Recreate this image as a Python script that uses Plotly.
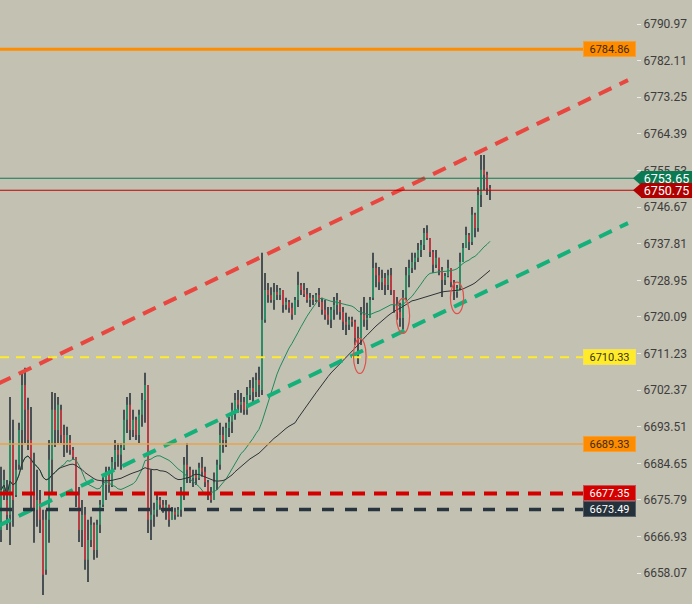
import pandas
import plotly.graph_objects
import plotly.io


plotly.io.templates.default = 'plotly_white'

# candles, one bar per slot (oldest first)
opens = [6668.5, 6678.2, 6675.8, 6672.2, 6689.1, 6677.0, 6684.3, 6692.7, 6703.6, 6697.6,
         6690.3, 6677.0, 6673.4, 6675.8, 6671.0, 6658.9, 6671.0, 6685.5, 6697.6, 6692.7,
         6697.6, 6691.5, 6689.1, 6690.3, 6687.9, 6686.2, 6677.0, 6668.5, 6672.2, 6661.3,
         6666.1, 6669.8, 6663.7, 6669.8, 6674.6, 6679.4, 6681.9, 6679.4, 6685.0, 6687.9,
         6686.7, 6688.4, 6695.2, 6698.8, 6692.7, 6695.2, 6691.5, 6696.4, 6700.0, 6703.6,
         6671.0, 6672.2, 6673.4, 6675.8, 6674.6, 6673.4, 6674.6, 6671.0, 6672.9, 6672.2,
         6673.4, 6677.7, 6684.3, 6683.1, 6681.1, 6681.9, 6681.1, 6683.6, 6682.6, 6680.1,
         6677.0, 6675.8, 6680.1, 6684.3, 6691.5, 6690.3, 6693.2, 6694.7, 6697.6, 6700.0,
         6698.8, 6699.5, 6697.6, 6701.2, 6702.9, 6701.9, 6704.8, 6702.4, 6719.4, 6726.6,
         6725.4, 6724.2, 6726.1, 6725.4, 6726.6, 6723.0, 6723.7, 6722.3, 6720.6, 6724.2,
         6727.8, 6726.6, 6725.6, 6724.2, 6724.7, 6724.2, 6725.4, 6723.7, 6721.8, 6720.6,
         6719.4, 6721.8, 6723.0, 6724.2, 6721.3, 6718.9, 6718.2, 6719.4, 6718.9, 6715.0,
         6714.5, 6720.6, 6719.4, 6719.8, 6724.7, 6731.9, 6730.2, 6728.5, 6729.5, 6727.8,
         6730.2, 6726.6, 6723.0, 6721.3, 6719.8, 6724.7, 6730.2, 6731.9, 6733.4, 6734.4,
         6736.3, 6737.5, 6740.4, 6739.2, 6735.8, 6732.7, 6734.4, 6731.5, 6729.0, 6730.0,
         6731.9, 6728.5, 6726.1, 6727.1, 6733.4, 6736.8, 6739.9, 6738.2, 6744.8, 6741.6,
         6749.6, 6755.7, 6754.5, 6751.3]
highs = [6683.8, 6683.1, 6680.6, 6700.7, 6695.2, 6685.5, 6694.5, 6706.6, 6707.8, 6700.5,
         6698.3, 6687.2, 6683.1, 6678.2, 6673.4, 6673.4, 6690.3, 6701.9, 6701.7, 6700.7,
         6698.8, 6694.0, 6693.5, 6691.5, 6688.6, 6686.2, 6678.9, 6675.8, 6674.1, 6671.0,
         6671.7, 6670.3, 6671.0, 6675.8, 6681.4, 6683.8, 6683.8, 6686.2, 6690.3, 6689.6,
         6689.6, 6697.6, 6700.7, 6701.7, 6697.6, 6695.9, 6697.6, 6701.7, 6706.6, 6703.6,
         6683.1, 6675.1, 6677.5, 6676.5, 6675.8, 6675.8, 6674.6, 6674.1, 6673.9, 6674.1,
         6678.9, 6686.2, 6689.6, 6683.8, 6683.1, 6683.1, 6684.8, 6686.2, 6683.8, 6680.6,
         6678.9, 6682.4, 6685.5, 6694.5, 6693.5, 6694.5, 6695.9, 6699.3, 6701.7, 6702.4,
         6701.7, 6700.7, 6703.1, 6704.8, 6705.5, 6706.6, 6708.0, 6735.6, 6730.7, 6728.3,
         6727.3, 6728.3, 6727.8, 6727.1, 6726.6, 6724.7, 6724.2, 6723.5, 6724.9, 6731.0,
         6728.3, 6728.3, 6727.1, 6725.9, 6725.4, 6725.9, 6727.1, 6724.7, 6724.2, 6722.5,
         6722.5, 6724.9, 6725.9, 6724.2, 6722.5, 6721.1, 6720.1, 6720.1, 6719.4, 6717.7,
         6722.5, 6724.9, 6723.5, 6724.9, 6735.6, 6733.2, 6732.2, 6731.5, 6730.7, 6731.5,
         6731.9, 6726.6, 6724.9, 6723.5, 6726.6, 6732.2, 6733.9, 6735.6, 6735.6, 6738.0,
         6738.7, 6741.6, 6742.3, 6739.2, 6736.3, 6736.3, 6734.4, 6732.2, 6730.7, 6733.9,
         6731.9, 6729.0, 6727.8, 6735.6, 6738.0, 6741.9, 6740.4, 6746.7, 6745.3, 6751.5,
         6759.3, 6759.3, 6755.2, 6752.0]
lows = [6665.6, 6675.8, 6668.5, 6664.9, 6669.3, 6676.5, 6683.1, 6683.1, 6689.6, 6687.9,
        6673.4, 6665.4, 6669.3, 6667.8, 6652.8, 6657.7, 6665.4, 6677.5, 6688.6, 6689.6,
        6689.6, 6686.2, 6687.2, 6686.7, 6685.5, 6674.1, 6665.6, 6664.4, 6658.9, 6655.9,
        6664.4, 6661.3, 6661.8, 6667.8, 6674.1, 6675.8, 6677.5, 6678.9, 6683.1, 6683.8,
        6683.1, 6687.9, 6692.0, 6690.3, 6691.0, 6690.3, 6689.6, 6693.5, 6694.5, 6667.8,
        6666.1, 6669.3, 6671.7, 6673.4, 6672.7, 6671.0, 6669.3, 6671.0, 6671.0, 6671.7,
        6671.7, 6675.8, 6679.9, 6679.9, 6678.9, 6679.4, 6680.6, 6681.4, 6678.9, 6675.8,
        6675.1, 6675.8, 6678.2, 6683.1, 6687.2, 6688.6, 6691.0, 6692.0, 6695.2, 6696.9,
        6696.9, 6696.4, 6696.4, 6700.0, 6699.3, 6700.7, 6700.7, 6701.2, 6718.7, 6723.5,
        6723.5, 6721.8, 6724.2, 6724.2, 6721.1, 6721.8, 6721.1, 6719.4, 6720.6, 6722.5,
        6725.4, 6724.9, 6723.5, 6722.5, 6723.0, 6723.7, 6722.5, 6720.6, 6719.4, 6718.2,
        6717.4, 6719.4, 6720.6, 6719.4, 6716.9, 6715.7, 6716.9, 6717.7, 6713.3, 6708.7,
        6713.3, 6717.7, 6716.9, 6719.8, 6724.2, 6727.3, 6726.6, 6726.6, 6725.4, 6726.6,
        6725.4, 6721.1, 6719.4, 6717.7, 6716.9, 6724.2, 6727.3, 6730.7, 6731.5, 6733.4,
        6734.6, 6736.3, 6738.7, 6734.6, 6730.7, 6731.9, 6730.2, 6724.9, 6727.8, 6729.7,
        6727.3, 6724.2, 6724.7, 6726.6, 6733.4, 6736.8, 6736.3, 6737.5, 6739.4, 6740.7,
        6746.7, 6750.8, 6749.6, 6748.4]
closes = [6678.2, 6680.6, 6672.2, 6690.3, 6675.8, 6683.1, 6692.7, 6703.6, 6697.6, 6690.3,
          6677.0, 6673.4, 6675.8, 6671.0, 6657.7, 6671.0, 6685.5, 6697.6, 6692.7, 6698.8,
          6691.5, 6689.1, 6691.5, 6687.9, 6686.2, 6677.0, 6668.5, 6672.2, 6661.3, 6666.1,
          6669.8, 6663.7, 6669.8, 6674.6, 6679.4, 6681.9, 6679.4, 6685.0, 6687.9, 6686.7,
          6688.4, 6695.2, 6698.8, 6692.7, 6695.2, 6691.5, 6696.4, 6700.0, 6703.6, 6671.0,
          6672.2, 6673.4, 6675.8, 6674.6, 6673.4, 6674.6, 6671.0, 6672.9, 6672.2, 6673.4,
          6677.7, 6684.3, 6683.1, 6681.1, 6681.9, 6681.1, 6683.6, 6682.6, 6680.1, 6677.0,
          6675.8, 6680.1, 6684.3, 6691.5, 6690.3, 6693.2, 6694.7, 6697.6, 6700.0, 6698.8,
          6699.5, 6697.6, 6701.2, 6702.9, 6701.9, 6704.8, 6703.6, 6719.4, 6726.6, 6725.4,
          6724.2, 6726.1, 6725.4, 6726.6, 6723.0, 6723.7, 6722.3, 6720.6, 6724.2, 6727.8,
          6726.6, 6725.6, 6724.2, 6724.7, 6724.2, 6725.4, 6723.7, 6721.8, 6720.6, 6719.4,
          6721.8, 6723.0, 6724.2, 6721.3, 6718.9, 6718.2, 6719.4, 6718.9, 6715.0, 6713.3,
          6720.6, 6719.4, 6719.8, 6724.2, 6731.9, 6730.2, 6728.5, 6729.5, 6727.8, 6730.2,
          6726.6, 6723.0, 6721.3, 6719.8, 6724.7, 6730.2, 6731.9, 6733.4, 6734.4, 6736.3,
          6737.5, 6740.4, 6739.2, 6735.8, 6732.7, 6734.4, 6731.5, 6729.0, 6730.0, 6731.9,
          6728.5, 6726.1, 6727.1, 6733.4, 6736.8, 6739.9, 6738.2, 6744.8, 6741.6, 6749.6,
          6755.7, 6754.5, 6751.3, 6750.8]

price_ticks = [6658.07, 6666.93, 6675.79, 6684.65, 6693.51, 6702.37, 6711.23, 6720.09,
               6728.95, 6737.81, 6746.67, 6755.53, 6764.39, 6773.25, 6782.11, 6790.97]

# horizontal levels drawn on the chart
level_prices = [6784.86, 6710.33, 6689.33, 6677.35, 6673.49]
bid_price = 6753.65
last_price = 6750.75

# channel lines: (bar slot, price) at both ends
upper_channel = [(-1, 6703.9), (209, 6777.4)]
lower_channel = [(-1, 6669.5), (209, 6742.8)]

# circled lows: first slot, last slot, low price, high price
circled_lows = [(117.5, 121.7, 6706.4, 6714.9),
                (131.8, 136.2, 6716.1, 6724.6),
                (149.8, 154.2, 6720.9, 6728.5)]

price_range = [6650.6, 6796.8]

BACKGROUND = '#c3c1b2'
WICK_COLOR = '#1f2a33'
UP_COLOR = '#22a06c'
DOWN_COLOR = '#e0353f'
PLOT_WIDTH_PX = 636

level_styles = [
    dict(line=dict(color='#ff8c00', width=3), bg='#ff8c00', border='#f5a030', fg='#3a2a10'),
    dict(line=dict(color='#ffeb2a', width=2, dash='9px,7px'), bg='#ffeb2a', border='#f2e060', fg='#3a3510'),
    dict(line=dict(color='#e9a24c', width=1.5), bg='#ff8c00', border='#f5a030', fg='#3a2a10'),
    dict(line=dict(color='#d40000', width=4, dash='13px,9px'), bg='#d40000', border='#c85050', fg='#ffffff'),
    dict(line=dict(color='#28353e', width=3.5, dash='12px,11px'), bg='#26323b', border='#55606a', fg='#ffffff'),
]


def plot_candles(figure):
    slots = list(range(len(closes)))
    wick_x, wick_y = [], []
    up_x, up_y, down_x, down_y = [], [], [], []
    for i in slots:
        wick_x += [i, i, None]
        wick_y += [lows[i], highs[i], None]
        if closes[i] >= opens[i]:
            up_x += [i, i, None]
            up_y += [opens[i], closes[i], None]
        else:
            down_x += [i, i, None]
            down_y += [opens[i], closes[i], None]
    figure.add_trace(plotly.graph_objects.Scatter(x=wick_x, y=wick_y, mode='lines',
                                                  line=dict(color=WICK_COLOR, width=1.5),
                                                  hoverinfo='skip'))
    figure.add_trace(plotly.graph_objects.Scatter(x=up_x, y=up_y, mode='lines',
                                                  line=dict(color=UP_COLOR, width=1.5),
                                                  hoverinfo='skip'))
    figure.add_trace(plotly.graph_objects.Scatter(x=down_x, y=down_y, mode='lines',
                                                  line=dict(color=DOWN_COLOR, width=1.5),
                                                  hoverinfo='skip'))


def plot_moving_averages(figure):
    close_series = pandas.Series(closes)
    fast = close_series.rolling(20, min_periods=1).mean()
    slow = close_series.rolling(50, min_periods=1).mean()
    figure.add_trace(plotly.graph_objects.Scatter(x=list(range(len(closes))), y=fast, mode='lines',
                                                  line=dict(color='#1f8a5c', width=1)))
    figure.add_trace(plotly.graph_objects.Scatter(x=list(range(len(closes))), y=slow, mode='lines',
                                                  line=dict(color='#2e3236', width=1)))


def plot_channel(figure):
    for points, color in ((upper_channel, '#e8463f'), (lower_channel, '#14b07a')):
        figure.add_trace(plotly.graph_objects.Scatter(x=[p[0] for p in points], y=[p[1] for p in points],
                                                      mode='lines',
                                                      line=dict(color=color, width=4, dash='14px,9px')))


def plot_levels(figure):
    for price, style in zip(level_prices, level_styles):
        figure.add_shape(type='line', xref='paper', x0=0, x1=1, yref='y', y0=price, y1=price,
                         line=style['line'], layer='above')
        figure.add_annotation(xref='paper', x=1, xanchor='right', yref='y', y=price,
                              text=f'{price:.2f}', showarrow=False, bgcolor=style['bg'],
                              bordercolor=style['border'], borderwidth=1, borderpad=1,
                              width=49, height=12,
                              font=dict(family='Roboto', size=11, color=style['fg']))
    # bid / last price tags sitting over the price scale
    for price, color, line_color in ((bid_price, '#0a7a52', '#0f7a55'), (last_price, '#b10000', '#c00000')):
        figure.add_shape(type='line', xref='paper', x0=0, x1=1, yref='y', y0=price, y1=price,
                         line=dict(color=line_color, width=1.2), layer='above')
        half = 7 * (price_range[1] - price_range[0]) / 604
        tip = 1 - 3 / PLOT_WIDTH_PX
        base = 1 + 5 / PLOT_WIDTH_PX
        figure.add_shape(type='path', xref='paper', yref='y',
                         path=f'M {base},{price + half} L {tip},{price} L {base},{price - half} Z',
                         fillcolor=color, line=dict(width=0), layer='above')
        figure.add_annotation(xref='paper', x=1, xanchor='left', xshift=5, yref='y', y=price,
                              text=f'{price:.2f}', showarrow=False, bgcolor=color,
                              bordercolor=color, borderwidth=1, borderpad=1,
                              width=47, height=11,
                              font=dict(family='Roboto', size=12.5, color='#ffffff'))


def plot_circles(figure):
    for x0, x1, y0, y1 in circled_lows:
        figure.add_shape(type='circle', xref='x', yref='y', x0=x0, x1=x1, y0=y0, y1=y1,
                         line=dict(color='#e0504a', width=1.2), layer='above')


if __name__ == '__main__':
    fig = plotly.graph_objects.Figure()
    plot_candles(fig)
    plot_moving_averages(fig)
    plot_channel(fig)
    plot_levels(fig)
    plot_circles(fig)
    fig.update_layout(width=692, height=604, showlegend=False, hovermode=False,
                      margin=dict(l=0, r=692 - PLOT_WIDTH_PX, t=0, b=0),
                      paper_bgcolor=BACKGROUND, plot_bgcolor=BACKGROUND,
                      font=dict(family='Roboto', color='#3d3d3d'))
    fig.update_xaxes(visible=False, range=[-1 / 3, (PLOT_WIDTH_PX - 1) / 3])
    fig.update_yaxes(side='right', range=price_range, tickvals=price_ticks,
                     ticktext=[f'{v:.2f}' for v in price_ticks],
                     ticks='outside', ticklen=4, tickcolor='#ececec', tickwidth=1,
                     tickfont=dict(family='Roboto', size=12, color='#3d3d3d'),
                     showgrid=False, zeroline=False, showline=False)
    # page body has a default 8px margin, drop it so the chart fills the window
    fig.write_html('out.html', config={'displayModeBar': False},
                   post_script="document.body.style.margin = '0';")
